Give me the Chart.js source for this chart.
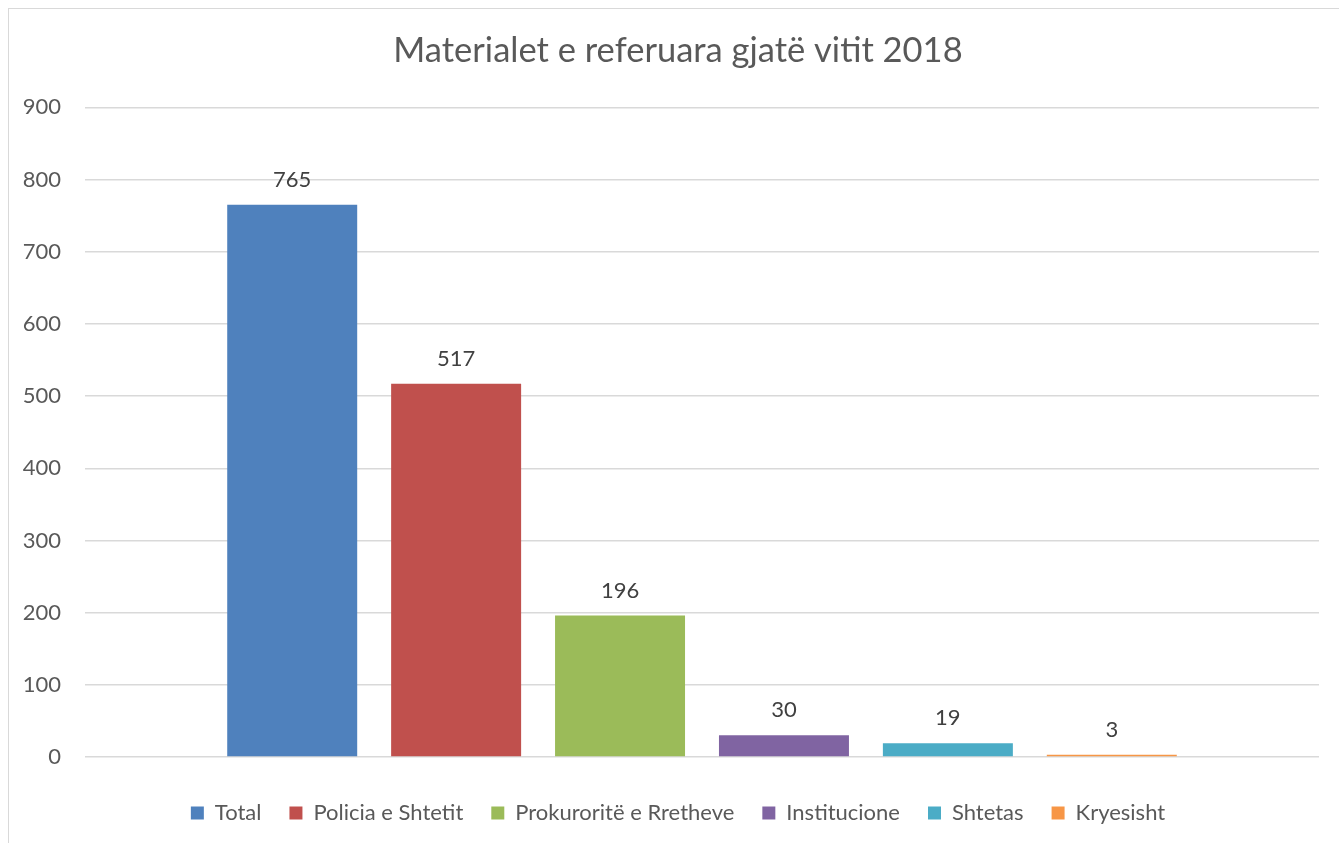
<!DOCTYPE html>
<html>
<head>
<meta charset="utf-8">
<script src="https://cdn.jsdelivr.net/npm/chart.js@4"></script>
<style>
  html, body { margin: 0; padding: 0; overflow: hidden; background: #fff; }
  #frame { position: absolute; left: 8px; top: 8px; width: 1400px; height: 900px; border: 1px solid #d9d9d9; }
  #wrap { position: absolute; left: 0; top: 0; width: 1360px; height: 843px; }
</style>
</head>
<body>
<div id="frame"></div>
<div id="wrap"><canvas id="myChart"></canvas></div>
<script>
const canvas = document.getElementById('myChart');

// podaci
const titleText = 'Materialet e referuara gjatë vitit 2018';
const seriesNames = ['Total', 'Policia e Shtetit', 'Prokuroritë e Rretheve', 'Institucione', 'Shtetas', 'Kryesisht'];
const seriesValues = [765, 517, 196, 30, 19, 3];
const seriesColors = ['#4F81BD', '#C0504D', '#9BBB59', '#8064A2', '#4BACC6', '#F79646'];
const yTicks = [0, 100, 200, 300, 400, 500, 600, 700, 800, 900];

const fontFamily = 'Lato, "Open Sans", sans-serif';
const textColor = '#595959';

// brojevi iznad stubova
const valueLabels = {
    id: 'valueLabels',
    afterDatasetsDraw(chart) {
        const ctx = chart.ctx;
        ctx.save();
        ctx.font = '22px ' + fontFamily;
        ctx.fillStyle = '#404040';
        ctx.textAlign = 'center';
        ctx.textBaseline = 'middle';
        chart.data.datasets.forEach((ds, i) => {
            const meta = chart.getDatasetMeta(i);
            meta.data.forEach((bar, j) => {
                ctx.fillText(ds.data[j], bar.x, bar.y - 25);
            });
        });
        ctx.restore();
    }
};

const datasets = seriesNames.map((name, i) => ({
    label: name,
    data: [seriesValues[i]],
    backgroundColor: seriesColors[i],
    borderWidth: 0,
    categoryPercentage: 0.797,
    barPercentage: 0.793
}));

new Chart(canvas, {
    type: 'bar',
    data: {
        labels: [''],
        datasets: datasets
    },
    options: {
        responsive: true,
        maintainAspectRatio: false,
        animation: false,
        layout: {
            padding: { left: 8, right: 12, top: 0, bottom: 9 }
        },
        plugins: {
            title: {
                display: true,
                text: titleText,
                color: textColor,
                font: { family: fontFamily, size: 34.5, weight: 'normal' },
                padding: { top: 30, bottom: 36 }
            },
            legend: {
                position: 'bottom',
                labels: {
                    color: textColor,
                    font: { family: fontFamily, size: 22 },
                    boxWidth: 13,
                    boxHeight: 13,
                    padding: 28
                }
            },
            tooltip: { enabled: false }
        },
        scales: {
            x: {
                grid: { display: false },
                border: { display: false },
                ticks: { display: false },
                afterFit: (scale) => { scale.height = 17; }
            },
            y: {
                min: 0,
                max: 900,
                afterBuildTicks: (scale) => { scale.ticks = yTicks.map(v => ({ value: v })); },
                afterFit: (scale) => { scale.width = 77; },
                border: { display: false },
                grid: { color: '#d9d9d9', lineWidth: 1.5, drawTicks: false },
                ticks: {
                    color: textColor,
                    padding: 24,
                    font: { family: fontFamily, size: 22 }
                }
            },
            y2: {
                position: 'right',
                display: true,
                grid: { display: false },
                border: { display: false },
                ticks: { display: false },
                afterFit: (scale) => { scale.width = 29; }
            }
        }
    },
    plugins: [valueLabels]
});
</script>
</body>
</html>
